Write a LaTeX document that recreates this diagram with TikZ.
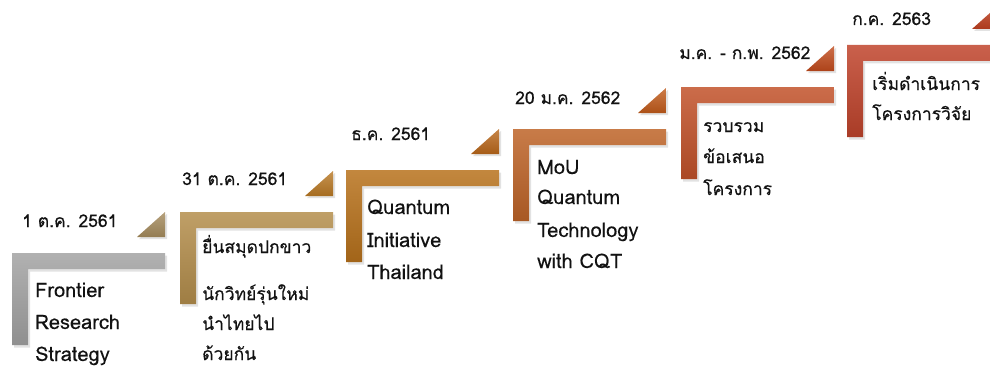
\documentclass[tikz,border=0pt]{standalone}
\usepackage{fontspec}
\setmainfont[Script=Thai,FakeBold=0.5]{Loma}
\newfontfamily\latinfont[FakeBold=0.25]{Loma}
\definecolor{txt}{HTML}{121212}
\definecolor{ca}{HTML}{A3A3A3}
\definecolor{cb}{HTML}{B48E4C}
\definecolor{cc}{HTML}{B8721C}
\definecolor{cd}{HTML}{BE6428}
\definecolor{ce}{HTML}{C2522A}
\definecolor{cf}{HTML}{C0442C}
\definecolor{ta}{HTML}{A48A5C}
\definecolor{tb}{HTML}{B87824}
\definecolor{tc}{HTML}{B8661A}
\definecolor{td}{HTML}{C05A1A}
\definecolor{te}{HTML}{C04A1C}
\definecolor{tf}{HTML}{BF4020}
\tikzset{
  datelbl/.style={anchor=base west, inner sep=0pt, text=txt, font=\fontsize{17.5}{20}\selectfont},
  thailbl/.style={anchor=base west, inner sep=0pt, text=txt, font=\fontsize{17.5}{20}\selectfont},
  latinlbl/.style={anchor=base west, inner sep=0pt, text=txt, font=\latinfont\fontsize{20}{22}\selectfont},
}
\newcommand{\stepshape}[4]{% left, top, colour, triangle colour
  \fill[black!25, opacity=0.45] (#1+2,#2+2.5) -- ++(153,0) -- ++(0,16) -- ++(-137,0) -- ++(0,76) -- ++(-16,0) -- cycle;
  \shade[top color=#3!85!white, bottom color=#3!88!black] (#1,#2) -- ++(153,0) -- ++(0,16) -- ++(-137,0) -- ++(0,76) -- ++(-16,0) -- cycle;
  \fill[black!25, opacity=0.45] (#1+127,#2-14) -- (#1+155,#2-14) -- (#1+155,#2-39) -- cycle;
  \shade[top color=#4!80!white, bottom color=#4!90!black] (#1+125,#2-16) -- (#1+153,#2-16) -- (#1+153,#2-41) -- cycle;
}
\begin{document}
\begin{tikzpicture}[x=1pt,y=-1pt]
\useasboundingbox (0,0) rectangle (990,369);
\clip (0,0) rectangle (990,369);
\stepshape{12}{253}{ca}{ta}
\stepshape{180}{212}{cb}{tb}
\stepshape{346}{170}{cc}{tc}
\stepshape{513}{129}{cd}{td}
\stepshape{681}{87}{ce}{te}
\stepshape{847}{45}{cf}{tf}

\node[datelbl] (d1) at (22,227) {1 ต.ค. 2561};
\node[latinlbl] (a1) at (35,297) {Frontier};
\node[latinlbl] (a2) at (35,329) {Research};
\node[latinlbl] (a3) at (35,361) {Strategy};

\node[datelbl] (d2) at (182,185) {31 ต.ค. 2561};
\node[thailbl] (b1) at (202,253) {ยื่นสมุดปกขาว};
\node[thailbl] (b2) at (202,300) {นักวิทย์รุ่นใหม่};
\node[thailbl] (b3) at (202,330) {นำไทยไป};
\node[thailbl] (b4) at (202,360) {ด้วยกัน};

\node[datelbl] (d3) at (351,140) {ธ.ค. 2561};
\node[latinlbl] (c1) at (367,214) {Quantum};
\node[latinlbl] (c2) at (367,247) {Initiative};
\node[latinlbl] (c3) at (367,279) {Thailand};

\node[datelbl] (d4) at (515,104) {20 ม.ค. 2562};
\node[latinlbl] (e1) at (537,174) {MoU};
\node[latinlbl] (e2) at (537,204) {Quantum};
\node[latinlbl] (e3) at (537,237) {Technology};
\node[latinlbl] (e4) at (537,268) {with CQT};

\node[datelbl] (d5) at (679,59) {ม.ค. - ก.พ. 2562};
\node[thailbl] (f1) at (703,132) {รวบรวม};
\node[thailbl] (f2) at (703,163) {ข้อเสนอ};
\node[thailbl] (f3) at (703,195) {โครงการ};

\node[datelbl] (d6) at (852,25) {ก.ค. 2563};
\node[thailbl] (g1) at (872,90) {เริ่มดำเนินการ};
\node[thailbl] (g2) at (872,120) {โครงการวิจัย};
\end{tikzpicture}
\end{document}
